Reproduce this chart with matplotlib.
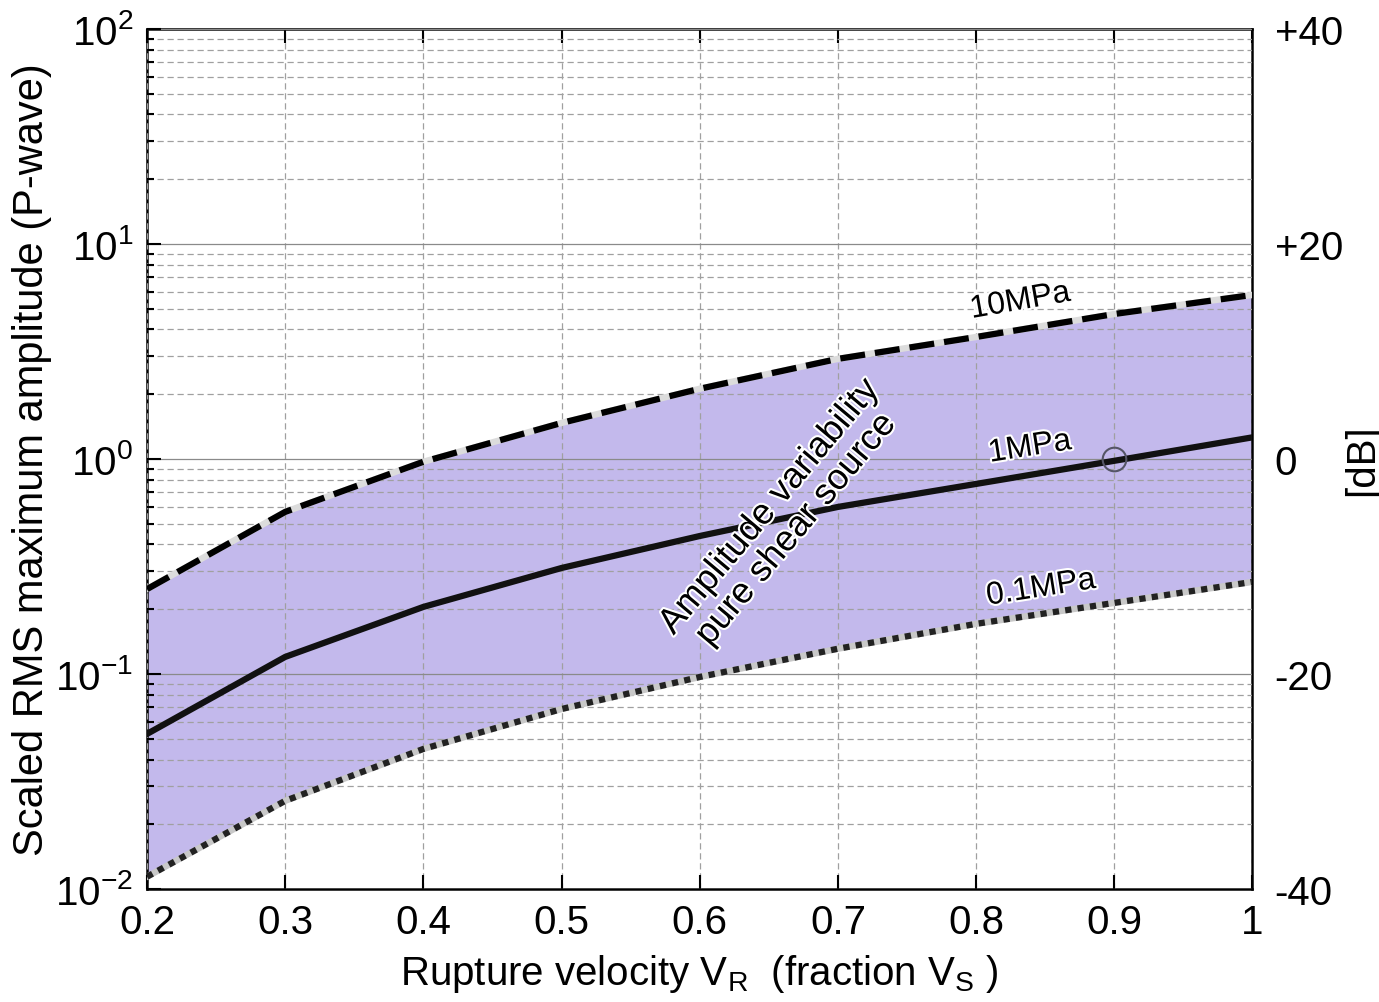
import numpy as np
import matplotlib
matplotlib.use('Agg')
import matplotlib.pyplot as plt
import matplotlib.patheffects as pe
from matplotlib.ticker import LogLocator, FixedLocator, NullFormatter

plt.rcParams['font.family'] = ['Liberation Sans', 'DejaVu Sans']
plt.rcParams['mathtext.fontset'] = 'custom'
plt.rcParams['mathtext.rm'] = 'Liberation Sans'
plt.rcParams['mathtext.it'] = 'Liberation Sans'

# rupture velocity (fraction of Vs)
vr = [0.2, 0.3, 0.4, 0.5, 0.6, 0.7, 0.8, 0.9, 1.0]
# scaled RMS amplitude for three stress drops
amp_10mpa = [0.248, 0.567, 0.97, 1.47, 2.12, 2.92, 3.69, 4.72, 5.79]
amp_1mpa = [0.0526, 0.12, 0.205, 0.311, 0.438, 0.598, 0.765, 0.98, 1.26]
amp_01mpa = [0.0114, 0.0257, 0.0448, 0.0687, 0.0968, 0.131, 0.171, 0.214, 0.268]

db_ticks = [1e-2, 1e-1, 1e0, 1e1, 1e2]
db_labels = ['-40', '-20', '0', '+20', '+40']

fig = plt.figure(figsize=(13.79, 10.03), dpi=100)
ax = fig.add_axes([0.1066, 0.1127, 0.8016, 0.8575])

ax.fill_between(vr, amp_01mpa, amp_10mpa, color='#c3b9ec', lw=0, zorder=1)

# light halo under the broken lines
ax.plot(vr, amp_10mpa, color='#dcdcdc', lw=4.6, zorder=3)
ax.plot(vr, amp_01mpa, color='#c8c8c8', lw=4.6, zorder=3)
ax.plot(vr, amp_10mpa, color='black', lw=4.5, ls=(0, (4, 1.6)), zorder=4)
ax.plot(vr, amp_1mpa, color='#111111', lw=4.5, zorder=4)
ax.plot(vr, amp_01mpa, color='#222222', lw=4.5, ls=(0, (1, 1)), zorder=4)
ax.plot([0.9], [1.0], marker='o', ms=17, mfc='none', mec='#555566', mew=1.5, zorder=5)

ax.set_yscale('log')
ax.set_xlim(0.2, 1.0)
ax.set_ylim(1e-2, 1e2)
ax.set_xticks(np.arange(0.2, 1.01, 0.1))
ax.set_xticklabels(['0.2', '0.3', '0.4', '0.5', '0.6', '0.7', '0.8', '0.9', '1'])
ax.yaxis.set_major_locator(FixedLocator(db_ticks))
ax.set_yticklabels([r'$10^{-2}$', r'$10^{-1}$', r'$10^{0}$', r'$10^{1}$', r'$10^{2}$'])
ax.yaxis.set_minor_locator(LogLocator(base=10, subs=np.arange(2, 10)))
ax.yaxis.set_minor_formatter(NullFormatter())

ax.set_axisbelow(False)
ax.grid(True, which='major', axis='y', color='#8a8a8a', lw=0.9, ls='-', zorder=2)
ax.grid(True, which='minor', axis='y', color='#a0a0a0', lw=0.9, ls=(0, (5, 3)), zorder=2)
ax.grid(True, which='major', axis='x', color='#a0a0a0', lw=0.9, ls=(0, (5, 3)), zorder=2)

ax.tick_params(which='both', direction='in', top=True, right=True, labelsize=29, width=1.5)
ax.tick_params(which='major', length=10, pad=10)
ax.tick_params(which='minor', length=5)
for s in ax.spines.values():
    s.set_linewidth(1.8)

ax.set_xlabel(r'Rupture velocity V$_\mathregular{R}$  (fraction V$_\mathregular{S}$ )', fontsize=29, labelpad=8)
ax.set_ylabel('Scaled RMS maximum amplitude (P-wave)', fontsize=30, labelpad=2)

ax2 = ax.twinx()
ax2.set_yscale('log')
ax2.set_ylim(1e-2, 1e2)
ax2.yaxis.set_major_locator(FixedLocator(db_ticks))
ax2.set_yticklabels(db_labels)
ax2.yaxis.set_minor_formatter(NullFormatter())
ax2.tick_params(which='both', length=0, labelsize=29, pad=16)
for s in ax2.spines.values():
    s.set_visible(False)
fig.text(1362 / 1379, 0.541, '[dB]', fontsize=29, rotation=90, ha='center', va='center')

halo = [pe.withStroke(linewidth=3, foreground='white')]
ax.text(0.832, 5.4, '10MPa', fontsize=23, rotation=10, ha='center', va='center',
        path_effects=halo, zorder=6)
ax.text(0.839, 1.13, '1MPa', fontsize=23, rotation=9, ha='center', va='center',
        path_effects=halo, zorder=6)
ax.text(0.847, 0.25, '0.1MPa', fontsize=23, rotation=9, ha='center', va='center',
        path_effects=halo, zorder=6)
ax.text(0.66, 0.53, 'Amplitude variability\npure shear source', fontsize=26, rotation=50,
        ha='center', va='center', linespacing=1.0, path_effects=halo, zorder=6)

fig.savefig('out.png', dpi=100)
